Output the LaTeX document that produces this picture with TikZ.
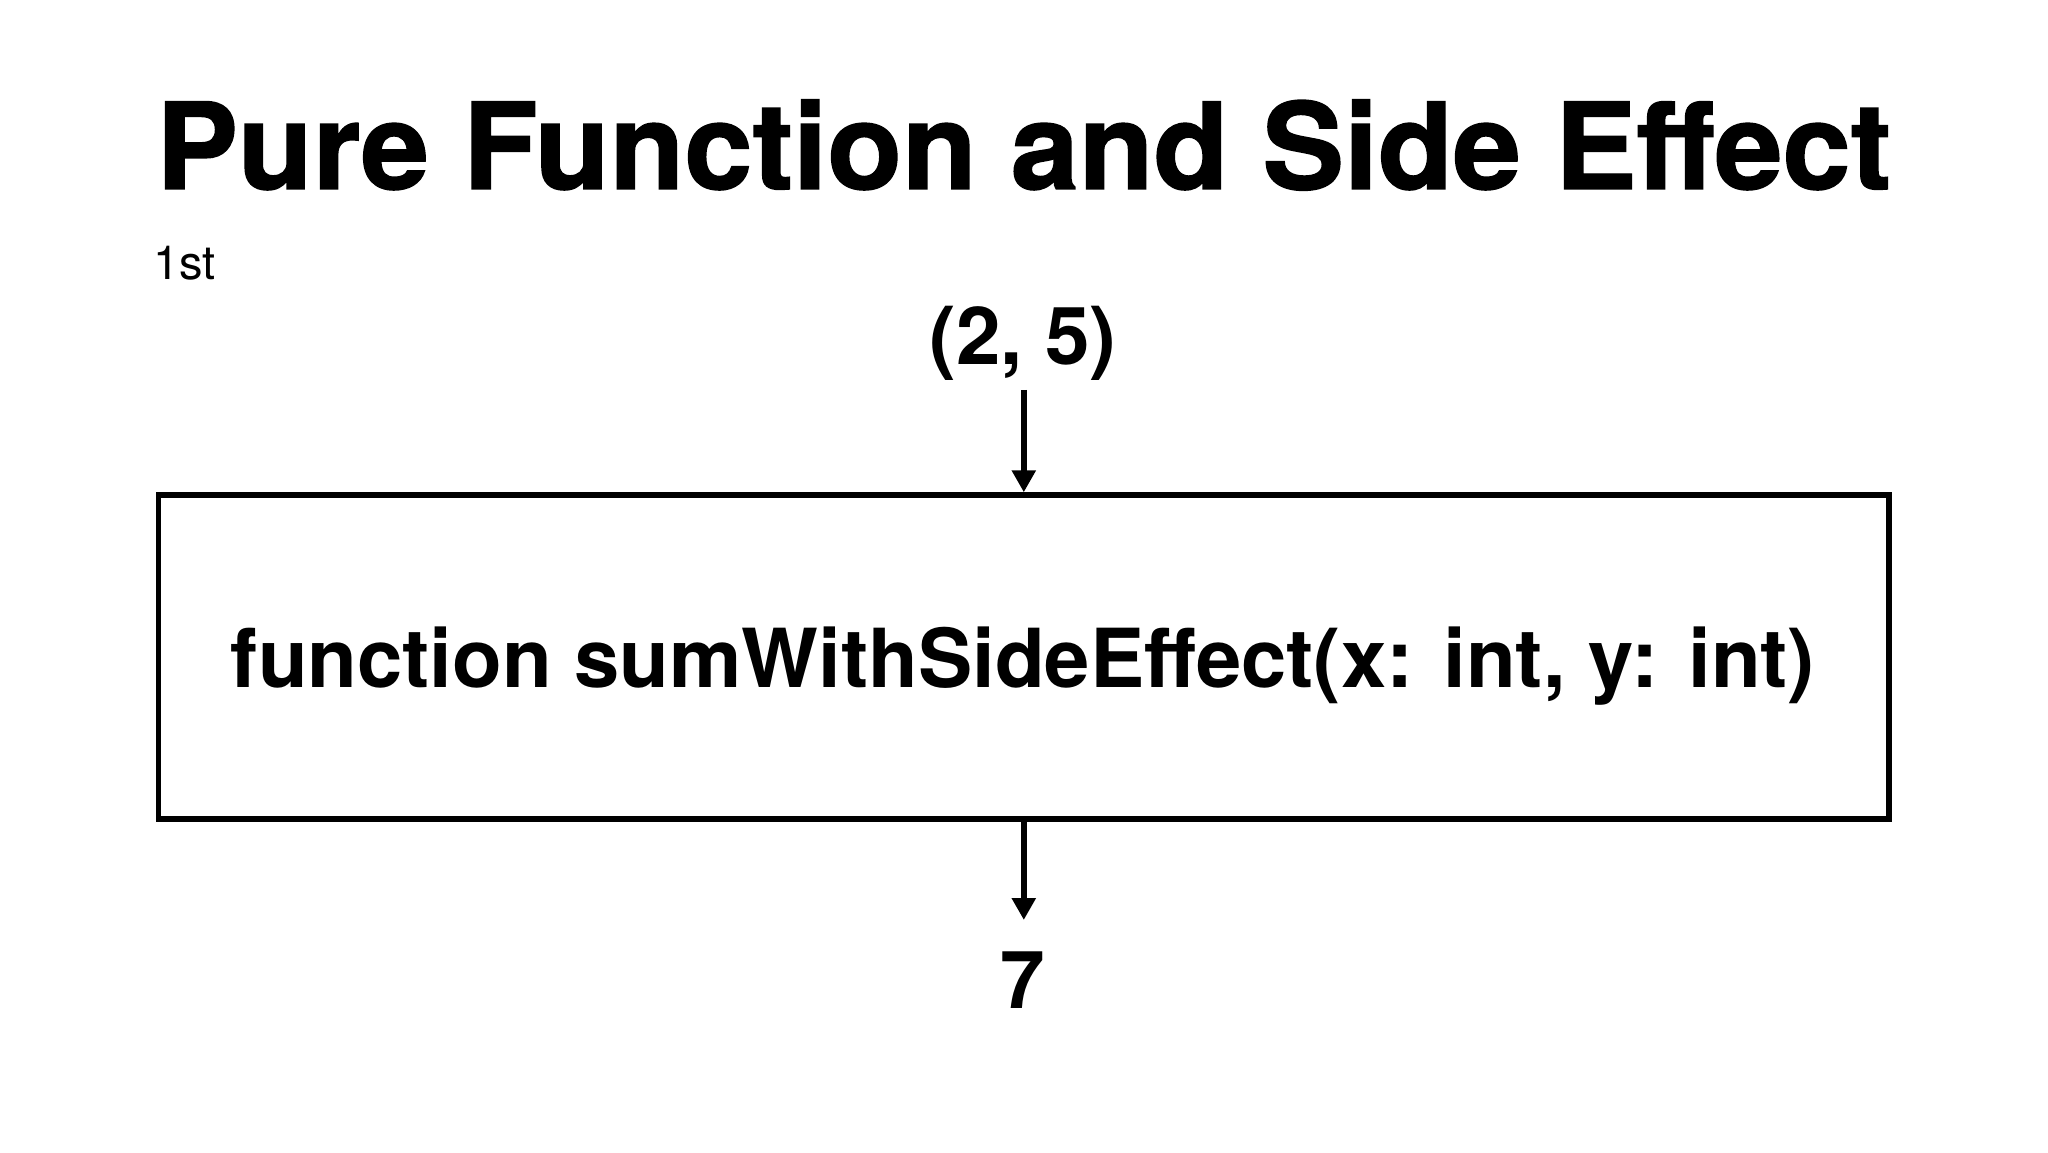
\documentclass[tikz,border=0pt]{standalone}
\usepackage{fontspec}
\setmainfont{TeX Gyre Heros}
\newfontfamily\heavyfont[BoldFont={* Bold}, BoldFeatures={FakeBold=1.2, FakeStretch=1.02}]{TeX Gyre Heros}
\usetikzlibrary{arrows.meta}
\tikzset{
  titletext/.style={anchor=base west, inner sep=0pt, font=\heavyfont\fontsize{60}{72}\selectfont\bfseries},
  subtext/.style={anchor=base west, inner sep=0pt, font=\fontsize{23.5}{28}\selectfont},
  valtext/.style={anchor=base, inner sep=0pt, font=\fontsize{40}{48}\selectfont\bfseries},
  functext/.style={anchor=base, inner sep=0pt, font=\fontsize{40.7}{50}\selectfont\bfseries},
  funcbox/.style={draw, line width=2.7pt, minimum width=865.25pt, minimum height=162pt, inner sep=0pt},
  arr/.style={line width=2.8pt, -{Triangle[length=11pt,width=11.5pt]}}
}
\begin{document}
\begin{tikzpicture}
\useasboundingbox[fill=white] (0,0) rectangle (1024pt,576pt);
\node[titletext] (title) at (78pt,481.5pt) {Pure Function and Side Effect};
\node[subtext] (sub) at (76.5pt,436pt) {1st};
\node[valtext] (in) at (511.5pt,393.5pt) {(2, 5)};
\node[funcbox] (box) at (511.9pt,247.5pt) {};
\node[functext] (ftext) at (511.5pt,232.5pt) {function sumWithSideEffect(x: int, y: int)};
\node[valtext] (out) at (511.5pt,72pt) {7};
\coordinate (a1) at (511.9pt,381pt);
\coordinate (a2) at (511.9pt,116pt);
\draw[arr] (a1) -- (box.north);
\draw[arr] (box.south) -- (a2);
\end{tikzpicture}
\end{document}
